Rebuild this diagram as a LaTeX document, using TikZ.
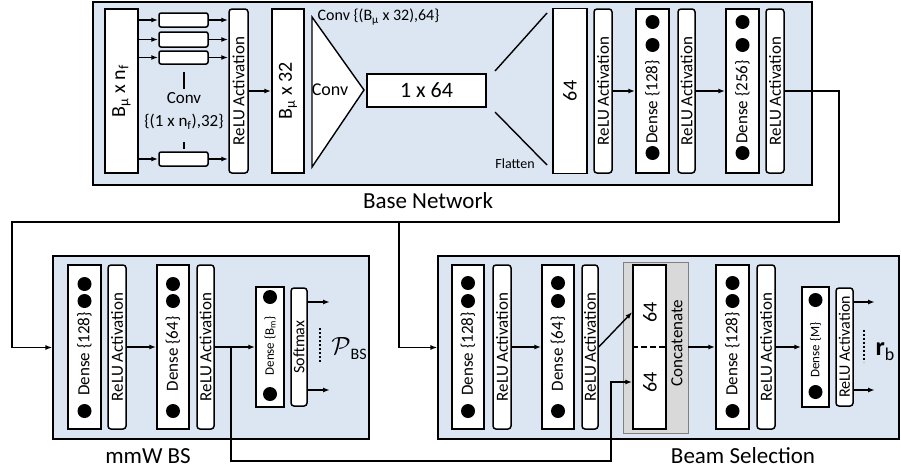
\documentclass[tikz,border=0pt]{standalone}
\usepackage{fontspec}
\usepackage{graphicx}
\setmainfont{Carlito}
\usetikzlibrary{arrows.meta, positioning}
\definecolor{netblue}{RGB}{220,230,242}
\definecolor{catgray}{RGB}{217,217,217}

\begin{document}
\begin{tikzpicture}[x=1pt, y=-1pt, line width=1.4pt, >={Latex[length=7pt, width=5pt]},
    net/.style={draw, fill=netblue, line width=1.2pt, inner sep=0pt},
    blk/.style={draw, fill=white, line width=1.5pt, inner sep=0pt, font=\fontsize{17}{19}\selectfont},
    relu/.style={blk, rounded corners=3pt},
    cbox/.style={blk, rounded corners=2pt, minimum width=49},
    lbl/.style={inner sep=0pt, font=\fontsize{17}{19}\selectfont},
    vlbl/.style={lbl, rotate=90},
    title/.style={lbl, font=\fontsize{23}{25}\selectfont}]
      \useasboundingbox (0,0) rectangle (901,471);
      % base network
      \node (base)[net, minimum width=719, minimum height=183] at (452.5,93.5) {};
      \node (inp)[blk, minimum width=33, minimum height=164, font=\fontsize{20}{22}\selectfont] at (121.5,91) {\rotatebox{90}{B\textsubscript{μ} x n\textsubscript{f}}};
      \node (c1)[cbox, minimum height=14] at (183.5,20) {};
      \node (c2)[cbox, minimum height=15] at (183.5,39.5) {};
      \node (c3)[cbox, minimum height=13] at (183.5,57.5) {};
      \node (c4)[cbox, minimum height=14] at (183.5,159) {};
      \node (relu1)[relu, minimum width=19, minimum height=164] at (238.5,91) {\rotatebox{90}{ReLU Activation}};
      \node (convtxt)[lbl, align=center, font=\fontsize{17}{23}\selectfont] at (184,111) {Conv\\\{(1 x n\textsubscript{f}),32\}};
      \draw[->] (inp.east |- c1) -- (c1);
      \draw[->] (inp.east |- c2) -- (c2);
      \draw[->] (inp.east |- c3) -- (c3);
      \draw[->] (inp.east |- c4) -- (c4);
      \draw[->] (c1) -- (c1 -| relu1.west);
      \draw[->] (c2) -- (c2 -| relu1.west);
      \draw[->] (c3) -- (c3 -| relu1.west);
      \draw[->] (c4) -- (c4 -| relu1.west);
      \draw (184,72) -- (184,89);
      \draw (184,142) -- (184,149);
      \node (b32)[blk, minimum width=32, minimum height=164, font=\fontsize{20}{22}\selectfont] at (288,91) {\rotatebox{90}{B\textsubscript{μ} x 32}};
      \draw[->] (relu1) -- (b32);
      \draw[fill=white] (312,17) -- (312,167) -- (364,90) -- cycle;
      \node (tconv)[lbl, font=\fontsize{18}{20}\selectfont] at (330,90) {Conv};
      \node (convlbl)[lbl, anchor=west, font=\fontsize{16}{18}\selectfont] at (317,17) {Conv \{(B\textsubscript{μ} x 32),64\}};
      \node (fc)[blk, minimum width=119, minimum height=33, font=\fontsize{22}{24}\selectfont] at (426.5,90.5) {1 x 64};
      \draw (495,71) -- (547,13);
      \draw (495,112) -- (547,165);
      \node (flat)[lbl, font=\fontsize{14}{16}\selectfont] at (515,164) {Flatten};
      \node (f64)[blk, minimum width=34, minimum height=165, font=\fontsize{20}{22}\selectfont] at (570,91) {\rotatebox{90}{64}};
      \node (relu2)[relu, minimum width=18, minimum height=164] at (603,91) {\rotatebox{90}{ReLU Activation}};
      \node (d128)[blk, minimum width=33, minimum height=164] at (652.5,91) {};
      \node (d128t)[vlbl] at (652.5,102) {Dense \{128\}};
      \fill (652.5,22) circle (7) (652.5,45) circle (7) (652.5,153) circle (7);
      \node (relu3)[relu, minimum width=17, minimum height=164] at (686.5,91) {\rotatebox{90}{ReLU Activation}};
      \node (d256)[blk, minimum width=33, minimum height=164] at (742.5,91) {};
      \node (d256t)[vlbl] at (742.5,102) {Dense \{256\}};
      \fill (742.5,22) circle (7) (742.5,45) circle (7) (742.5,153) circle (7);
      \node (relu4)[relu, minimum width=18, minimum height=164] at (775,91) {\rotatebox{90}{ReLU Activation}};
      \draw[->] (relu2) -- (d128);
      \draw[->] (relu3) -- (d256);
      \node (basetxt)[title] at (428,201) {Base Network};
      % mmW BS
      \node (mmw)[net, minimum width=316, minimum height=183] at (211,347.5) {};
      \node (m1)[blk, minimum width=33, minimum height=164] at (84.5,347) {};
      \node (m1t)[vlbl] at (84.5,354) {Dense \{128\}};
      \fill (84.5,284) circle (7) (84.5,301) circle (7) (84.5,411) circle (7);
      \node (mr1)[relu, minimum width=18, minimum height=164] at (117,347) {\rotatebox{90}{ReLU Activation}};
      \node (m2)[blk, minimum width=32, minimum height=164] at (173,347) {};
      \node (m2t)[vlbl] at (173,354) {Dense \{64\}};
      \fill (173,284) circle (7) (173,301) circle (7) (173,411) circle (7);
      \node (mr2)[relu, minimum width=17, minimum height=164] at (205.5,347) {\rotatebox{90}{ReLU Activation}};
      \node (mbm)[blk, minimum width=28, minimum height=120] at (270,347) {};
      \node (mbmt)[vlbl, font=\fontsize{13}{15}\selectfont] at (270,346) {Dense \{B\textsubscript{m}\}};
      \fill (270,297) circle (7) (270,394) circle (7);
      \node (msm)[relu, minimum width=16, minimum height=118, font=\fontsize{16}{18}\selectfont] at (299,347) {\rotatebox{90}{Softmax}};
      \draw[->] (mr1) -- (m2);
      \coordinate (jn) at (231,347);
      \draw[->] (mr2) -- (mbm);
      \coordinate (po1) at (330,302);
      \coordinate (po2) at (330,390);
      \draw[->] (msm.east |- po1) -- (po1);
      \draw[->] (msm.east |- po2) -- (po2);
      \draw[line width=2.2pt, dash pattern=on 2pt off 2pt] (320,328) -- (320,362);
      \node (pbs)[lbl] at (349,349) {{\fontsize{25}{25}\selectfont$\mathcal{P}$}\raisebox{-5pt}{\fontsize{16}{18}\selectfont BS}};
      \node (mmwtxt)[title] at (148,456) {mmW BS};
      % beam selection
      \node (beam)[net, minimum width=461, minimum height=183] at (668.5,347.5) {};
      \node (b1)[blk, minimum width=32, minimum height=164] at (468,347) {};
      \node (b1t)[vlbl] at (468,354) {Dense \{128\}};
      \fill (468,283) circle (7) (468,301) circle (7) (468,411) circle (7);
      \node (bs1)[relu, minimum width=18, minimum height=164] at (502,347) {\rotatebox{90}{ReLU Activation}};
      \node (b2)[blk, minimum width=32, minimum height=164] at (558,347) {};
      \node (b2t)[vlbl] at (558,354) {Dense \{64\}};
      \fill (558,283) circle (7) (558,301) circle (7) (558,411) circle (7);
      \node (bs2)[relu, minimum width=16, minimum height=164] at (590,347) {\rotatebox{90}{ReLU Activation}};
      \node (catbg)[draw=gray, fill=catgray, line width=0.8pt, minimum width=65, minimum height=171] at (655.5,347.5) {};
      \node (cat)[blk, minimum width=33, minimum height=164] at (649.5,347) {};
      \draw[line width=2.2pt, dash pattern=on 6pt off 3pt] (cat.west) -- (cat.east);
      \node (cu)[vlbl, font=\fontsize{20}{22}\selectfont] at (650,312) {64};
      \node (cl)[vlbl, font=\fontsize{20}{22}\selectfont] at (650,382) {64};
      \node (catt)[vlbl] at (677,343) {Concatenate};
      \node (b3)[blk, minimum width=33, minimum height=164] at (732.5,347) {};
      \node (b3t)[vlbl] at (732.5,354) {Dense \{128\}};
      \fill (732.5,283) circle (7) (732.5,301) circle (7) (732.5,411) circle (7);
      \node (bs3)[relu, minimum width=18, minimum height=164] at (766,347) {\rotatebox{90}{ReLU Activation}};
      \node (bm)[blk, minimum width=27, minimum height=120] at (815.5,347) {};
      \node (bmt)[vlbl, font=\fontsize{13}{15}\selectfont] at (815.5,350) {Dense \{M\}};
      \fill (815.5,300) circle (7) (815.5,392) circle (7);
      \node (bs4)[relu, minimum width=17, minimum height=118, font=\fontsize{16}{18}\selectfont] at (844.5,347) {\rotatebox{90}{ReLU Activation}};
      \draw[->] (bs1) -- (b2);
      \draw[->] (bs2.east) -- (cat.west |- cu);
      \draw[->] (catbg.east |- b3) -- (b3);
      \draw[->] (bs3) -- (bm);
      \coordinate (ro1) at (875,302);
      \coordinate (ro2) at (875,390);
      \draw[->] (bs4.east |- ro1) -- (ro1);
      \draw[->] (bs4.east |- ro2) -- (ro2);
      \draw[line width=2.2pt, dash pattern=on 2pt off 2pt] (864,330) -- (864,362);
      \node (rb)[lbl] at (885,352) {{\fontsize{26}{26}\selectfont\textbf{r}}\raisebox{-5pt}{\fontsize{18}{20}\selectfont b}};
      \node (beamtxt)[title] at (743,456) {Beam Selection};
      % links between the networks
      \coordinate (t1) at (839,91);
      \coordinate (t2) at (12,222);
      \coordinate (t3) at (399,222);
      \coordinate (j1) at (611,461);
      \draw[->] (relu4) -- (t1) |- (t2) |- (mmw.west);
      \draw[->] (t3) |- (beam.west);
      \draw[->] (jn) |- (j1) |- (cat.west |- cl);
    \end{tikzpicture}
\end{document}
